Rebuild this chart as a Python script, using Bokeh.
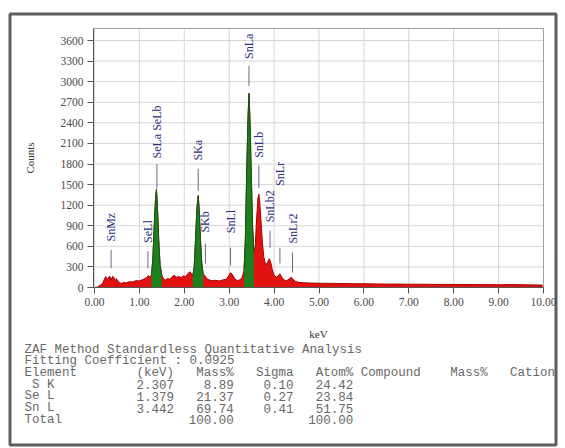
import math
from bokeh.plotting import figure
from bokeh.models import Range1d, ColumnDataSource, SingleIntervalTicker, NumeralTickFormatter
from bokeh.core.properties import value
from bokeh.embed import file_html
from bokeh.resources import INLINE

# ---------------- data ----------------
kev = [0.00, 0.06, 0.12, 0.18, 0.22, 0.25, 0.28, 0.31, 0.34, 0.37, 0.40, 0.43, 0.46, 0.49,
       0.52, 0.56, 0.60, 0.65, 0.70, 0.75, 0.80, 0.85, 0.90, 0.95, 1.00, 1.05, 1.10, 1.15,
       1.20, 1.24, 1.27, 1.30, 1.33, 1.36, 1.38, 1.40, 1.43, 1.46, 1.50, 1.54, 1.58, 1.63,
       1.68, 1.73, 1.78, 1.83, 1.88, 1.93, 1.98, 2.03, 2.08, 2.12, 2.15, 2.19, 2.22, 2.25,
       2.28, 2.31, 2.33, 2.36, 2.39, 2.42, 2.46, 2.50, 2.55, 2.62, 2.70, 2.78, 2.86, 2.93,
       2.98, 3.03, 3.07, 3.12, 3.18, 3.24, 3.29, 3.33, 3.36, 3.39, 3.42, 3.44, 3.46, 3.49,
       3.52, 3.55, 3.58, 3.61, 3.64, 3.66, 3.68, 3.71, 3.74, 3.77, 3.81, 3.85, 3.89, 3.92,
       3.96, 4.00, 4.05, 4.09, 4.13, 4.17, 4.22, 4.28, 4.33, 4.38, 4.42, 4.48, 4.55, 4.65,
       4.80, 5.00, 5.25, 5.50, 5.75, 6.00, 6.25, 6.50, 6.75, 7.00, 7.25, 7.50, 7.75, 8.00,
       8.25, 8.50, 8.75, 9.00, 9.25, 9.50, 9.75, 9.98]
counts = [0, 5, 30, 60, 120, 160, 100, 150, 165, 110, 160, 150, 100, 130,
          90, 70, 60, 75, 65, 80, 85, 80, 95, 100, 95, 110, 120, 140,
          170, 150, 190, 420, 900, 1300, 1430, 1200, 700, 330, 180, 120, 110, 130,
          120, 160, 175, 150, 160, 145, 170, 160, 200, 230, 210, 170, 300, 700,
          1150, 1340, 1150, 700, 350, 200, 170, 130, 110, 100, 105, 95, 110, 120,
          160, 215, 190, 130, 100, 110, 150, 250, 700, 1700, 2500, 2830, 2500, 1700,
          900, 520, 600, 1000, 1300, 1360, 1250, 950, 650, 450, 330, 360, 420, 380,
          260, 180, 150, 170, 200, 150, 110, 100, 120, 150, 120, 85, 75, 70,
          65, 62, 60, 58, 55, 55, 52, 50, 50, 48, 48, 46, 45, 45,
          44, 42, 42, 40, 42, 40, 38, 35]

# identified main lines drawn in green (keV windows)
green_start = [1.27, 2.19, 3.33]
green_end = [1.50, 2.42, 3.55]

peak_names = ["SnMz", "SeLl", "SeLa SeLb", "SKa", "SKb", "SnLl", "SnLa", "SnLb", "SnLb2", "SnLr", "SnLr2"]
peak_kev = [0.37, 1.19, 1.39, 2.31, 2.47, 3.03, 3.44, 3.66, 3.91, 4.13, 4.41]
peak_text_y = [670, 650, 1880, 1850, 800, 790, 3330, 1890, 950, 1480, 640]
peak_line_lo = [280, 280, 1440, 1410, 350, 320, 2940, 1450, 580, 350, 220]
peak_line_hi = [550, 530, 1800, 1730, 640, 580, 3230, 1780, 830, 580, 510]

x_ticks = [0, 1, 2, 3, 4, 5, 6, 7, 8, 9, 10]
y_ticks = [300, 600, 900, 1200, 1500, 1800, 2100, 2400, 2700, 3000, 3300, 3600]
x_max = 10.0
y_top = 3775

table_title = "ZAF Method Standardless Quantitative Analysis"
fitting_line = "Fitting Coefficient : 0.0925"
header_cols = ["Element", "(keV)", "Mass%", "Sigma", "Atom%", "Compound", "Mass%", "Cation"]
elements = ["S K", "Se L", "Sn L"]
el_kev = ["2.307", "1.379", "3.442"]
mass_pct = ["8.89", "21.37", "69.74"]
sigma = ["0.10", "0.27", "0.41"]
atom_pct = ["24.42", "23.84", "51.75"]
total_label = "Total"
total_mass = "100.00"
total_atom = "100.00"

# ---------------- page geometry (pixels) ----------------
W, H = 565, 448
ORIGIN_X, ORIGIN_Y = 94, 287          # pixel position of (0 keV, 0 counts)
PX_PER_KEV = 44.9
PX_PER_COUNT = 247 / 3600
TABLE_X, TABLE_Y, ROW_H, CHAR_W = 24, 349, 11.7, 7.47
header_col_start = [0, 15, 23, 31, 39, 45, 57, 65]     # character columns
value_col_end = [4, 20, 28, 36, 44]                    # right edges of value columns


def kx(px):
    return (px - ORIGIN_X) / PX_PER_KEV


def cy(py):
    return (ORIGIN_Y - py) / PX_PER_COUNT


def col_x(col):
    return kx(TABLE_X + col * CHAR_W)


def row_y(row):
    return cy(TABLE_Y + row * ROW_H)


p = figure(width=W, height=H, x_range=Range1d(kx(0), kx(W)), y_range=Range1d(cy(H), cy(0)),
           output_backend="svg", toolbar_location=None,
           min_border_left=0, min_border_right=0, min_border_top=0, min_border_bottom=0)
p.outline_line_color = None
p.background_fill_color = "white"
p.border_fill_color = "white"
p.xgrid.visible = False
p.ygrid.visible = False

x_left = kx(93)

# outer report frame
p.quad(left=kx(9.5), right=kx(555.5), top=cy(13.5), bottom=cy(444.5),
       fill_color=None, line_color="#5f5f5f", line_width=3)

# grid lines and plot box
p.segment(x0=x_ticks, y0=[0] * len(x_ticks), x1=x_ticks, y1=[y_top] * len(x_ticks),
          line_color="#d6d6d6", line_width=1)
p.segment(x0=[x_left] * len(y_ticks), y0=y_ticks, x1=[x_max] * len(y_ticks), y1=y_ticks,
          line_color="#d6d6d6", line_width=1)
p.quad(left=x_left, right=x_max, bottom=0, top=y_top, fill_color=None, line_color="#a0a0a0")

# axes inside the full-canvas frame
SERIF = "Liberation Serif"
p.xaxis.fixed_location = 0
p.yaxis.fixed_location = x_left
p.xaxis.bounds = (x_left, x_max)
p.yaxis.bounds = (0, y_top)
p.xaxis.ticker = SingleIntervalTicker(interval=1)
p.yaxis.ticker = SingleIntervalTicker(interval=300)
p.xaxis.formatter = NumeralTickFormatter(format="0.00")
for ax in (p.xaxis, p.yaxis):
    ax.major_label_text_font = SERIF
    ax.major_label_text_font_size = "11.5px"
    ax.major_label_text_color = "#4a4a4a"
    ax.axis_line_color = "#555555"
    ax.major_tick_line_color = "#555555"
    ax.minor_tick_line_color = None
    ax.major_tick_in = 0
    ax.major_tick_out = 6
    ax.major_label_standoff = 4
    ax.axis_label_text_font = SERIF
    ax.axis_label_text_font_style = "normal"
    ax.axis_label_text_font_size = "11px"
    ax.axis_label_text_color = "#333333"
p.xaxis.axis_label = "keV"
p.yaxis.axis_label = "Counts"
p.xaxis.axis_label_standoff = 19
p.yaxis.axis_label_standoff = 22

# spectrum (red background)
src = ColumnDataSource(dict(x=kev, y=counts))
p.varea(x="x", y1=0, y2="y", source=src, fill_color="#e31212")
p.line(x="x", y="y", source=src, line_color="#a40000", line_width=1)

# identified peaks in green
for gs, ge in zip(green_start, green_end):
    gx = [k for k in kev if gs <= k <= ge]
    gy = [c for k, c in zip(kev, counts) if gs <= k <= ge]
    gsrc = ColumnDataSource(dict(x=gx, y=gy))
    p.varea(x="x", y1=0, y2="y", source=gsrc, fill_color="#1d7f1d")
    p.line(x="x", y="y", source=gsrc, line_color="#0f5a0f", line_width=1)

# peak markers
lsrc = ColumnDataSource(dict(x=peak_kev, y=peak_text_y, t=peak_names, lo=peak_line_lo, hi=peak_line_hi))
p.segment(x0="x", y0="lo", x1="x", y1="hi", source=lsrc, line_color="#6a6a88", line_width=1)
p.text(x="x", y="y", text="t", source=lsrc, angle=math.pi / 2, text_align="left",
       text_baseline="middle", text_font=value(SERIF), text_font_size="12px", text_color="#2d2d7c")

# quantitative table below the chart (monospace columns)
left_x, left_y, left_t = [], [], []
right_x, right_y, right_t = [], [], []
for row, txt in enumerate([table_title, fitting_line]):
    left_x.append(col_x(0)); left_y.append(row_y(row)); left_t.append(txt)
for name, c in zip(header_cols, header_col_start):
    left_x.append(col_x(c)); left_y.append(row_y(2)); left_t.append(name)
for i, vals in enumerate(zip(elements, el_kev, mass_pct, sigma, atom_pct)):
    for v, c in zip(vals, value_col_end):
        right_x.append(col_x(c)); right_y.append(row_y(3 + i)); right_t.append(v)
total_row = len(elements) + 3
left_x.append(col_x(0)); left_y.append(row_y(total_row)); left_t.append(total_label)
for v, c in ((total_mass, value_col_end[2]), (total_atom, value_col_end[4])):
    right_x.append(col_x(c)); right_y.append(row_y(total_row)); right_t.append(v)

MONO = dict(text_baseline="middle", text_font=value("Liberation Mono"),
            text_font_size="12.5px", text_color="#686868")
p.text(x=left_x, y=left_y, text=left_t, text_align="left", **MONO)
p.text(x=right_x, y=right_y, text=right_t, text_align="right", **MONO)

open("out.html", "w").write(file_html(p, INLINE))
